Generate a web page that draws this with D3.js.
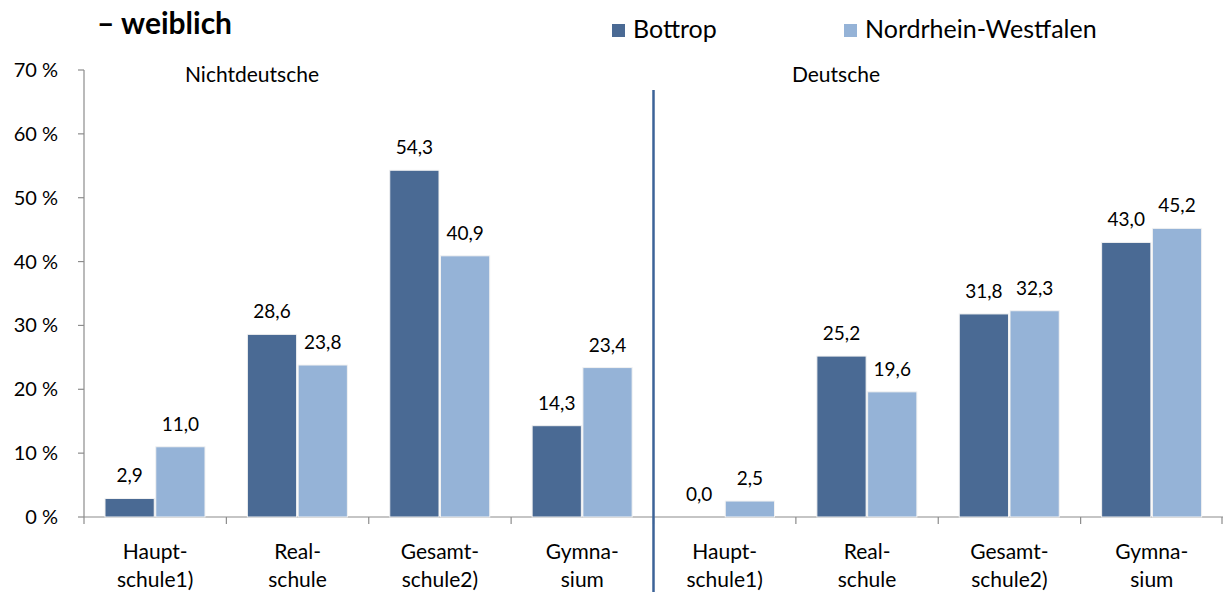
<!DOCTYPE html>
<html><head><meta charset="utf-8">
<script src="https://cdn.jsdelivr.net/npm/d3@7"></script>
<style>body{margin:0;background:#fff}svg{display:block}text{font-family:Lato,"Open Sans",sans-serif;fill:#000}</style>
</head><body>
<script>
const categories = ["Haupt-\nschule1)","Real-\nschule","Gesamt-\nschule2)","Gymna-\nsium","Haupt-\nschule1)","Real-\nschule","Gesamt-\nschule2)","Gymna-\nsium"];
const groups = ["Nichtdeutsche","Deutsche"];
const seriesNames = ["Bottrop","Nordrhein-Westfalen"];
const bottrop = [2.9, 28.6, 54.3, 14.3, 0.0, 25.2, 31.8, 43.0];
const nrw = [11.0, 23.8, 40.9, 23.4, 2.5, 19.6, 32.3, 45.2];
const yTicks = [0,10,20,30,40,50,60,70];
const colors = ["#4A6A94","#95B3D7"];

const W=1223,H=592;
const svg=d3.select("body").append("svg").attr("width",W).attr("height",H);
const x0=84, x1=1223, yBottom=517, yTop=70;
const x=d3.scaleBand().domain(d3.range(categories.length)).range([x0,x1]).paddingInner(0).paddingOuter(0);
const xs=d3.scaleBand().domain([0,1]).range([21,121]).paddingInner(0.03);
const y=d3.scaleLinear().domain([0,70]).range([yBottom,yTop]);

// y axis
svg.append("line").attr("x1",x0).attr("x2",x0).attr("y1",yTop).attr("y2",yBottom).attr("stroke","#8c8c8c").attr("stroke-width",1.2);
yTicks.forEach(t=>{
  svg.append("line").attr("x1",x0-6).attr("x2",x0).attr("y1",y(t)).attr("y2",y(t)).attr("stroke","#8c8c8c").attr("stroke-width",1.2);
  svg.append("text").attr("x",58).attr("y",y(t)+7).attr("text-anchor","end").style("font-size","20px").text(t+" %");
});
// x axis
svg.append("line").attr("x1",x0).attr("x2",x1).attr("y1",yBottom).attr("y2",yBottom).attr("stroke","#8c8c8c").attr("stroke-width",1.2);
d3.range(categories.length+1).forEach(i=>{
  const xx = i<categories.length ? x(i) : x1-1;
  svg.append("line").attr("x1",xx).attr("x2",xx).attr("y1",yBottom).attr("y2",yBottom+7).attr("stroke","#8c8c8c").attr("stroke-width",1.2);
});

// bars
const data=[bottrop,nrw];
data.forEach((vals,s)=>{
  vals.forEach((v,i)=>{
    const bx=x(i)+xs(s);
    svg.append("rect").attr("x",bx).attr("y",y(v)).attr("width",xs.bandwidth()).attr("height",yBottom-y(v))
      .attr("fill",colors[s]).attr("stroke","#f2f2f2").attr("stroke-width",1);
    svg.append("text").attr("x",bx+xs.bandwidth()/2).attr("y",y(v)-16).attr("text-anchor","middle")
      .style("font-size","19px").text(v.toFixed(1).replace(".",","));
  });
});

// category labels
categories.forEach((c,i)=>{
  const lines=c.split("\n");
  lines.forEach((l,j)=>{
    svg.append("text").attr("x",x(i)+x.bandwidth()/2).attr("y",559+j*28).attr("text-anchor","middle").style("font-size","21px").text(l);
  });
});

// separator
svg.append("line").attr("x1",x(4)).attr("x2",x(4)).attr("y1",90).attr("y2",H).attr("stroke","#3C6398").attr("stroke-width",2.5);

// group labels
svg.append("text").attr("x",252).attr("y",82).attr("text-anchor","middle").style("font-size","21px").text(groups[0]);
svg.append("text").attr("x",836).attr("y",82).attr("text-anchor","middle").style("font-size","21px").text(groups[1]);

// title
svg.append("text").attr("x",97).attr("y",34).style("font-size","30px").style("font-weight","bold").text("– weiblich");

// legend
const lx=[612,844];
seriesNames.forEach((n,i)=>{
  svg.append("rect").attr("x",lx[i]).attr("y",24).attr("width",13).attr("height",13).attr("fill",colors[i]);
  svg.append("text").attr("x",lx[i]+21).attr("y",38).style("font-size","25px").text(n);
});
</script>
</body></html>
